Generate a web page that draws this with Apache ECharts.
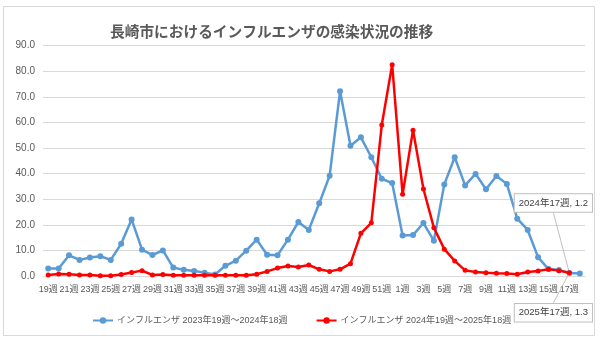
<!DOCTYPE html>
<html><head><meta charset="utf-8">
<script src="https://cdn.jsdelivr.net/npm/echarts@6/dist/echarts.min.js"></script>
<style>html,body{margin:0;padding:0;background:#fff}#c{width:600px;height:344px}</style>
</head><body><div id="c"></div>
<script>
const title = '長崎市におけるインフルエンザの感染状況の推移';
const weeks = [19,20,21,22,23,24,25,26,27,28,29,30,31,32,33,34,35,36,37,38,39,40,41,42,43,44,45,46,47,48,49,50,51,52,1,2,3,4,5,6,7,8,9,10,11,12,13,14,15,16,17,18];
const categories = weeks.map(w => w + '週');
const seriesNames = ['インフルエンザ 2023年19週〜2024年18週', 'インフルエンザ 2024年19週〜2025年18週'];
const season2023 = [2.9,2.9,8.1,6.3,7.2,7.7,6.3,12.6,22.1,10.3,8.2,10.0,3.3,2.4,2.0,1.3,0.6,4.0,6.0,9.9,14.2,8.3,8.1,14.2,21.1,18.0,28.4,39.2,72.2,50.9,54.2,46.4,38.0,36.3,15.8,16.0,20.7,13.8,35.8,46.4,35.4,39.9,33.9,39.1,36.0,22.4,18.0,7.3,2.7,2.3,1.2,1.0];
const season2024 = [0.4,0.8,0.7,0.4,0.4,0.1,0.1,0.6,1.4,2.1,0.4,0.6,0.3,0.3,0.3,0.3,0.3,0.3,0.3,0.3,0.7,1.8,3.1,3.9,3.5,4.3,2.6,1.8,2.6,4.8,16.7,20.8,59.0,82.6,31.9,57.0,34.0,18.9,10.5,5.9,2.2,1.6,1.3,1.1,1.0,0.7,1.6,2.0,2.6,2.1,1.3];
const yTicks = [0,10,20,30,40,50,60,70,80,90];
const calloutIndex = 50;
const calloutYears = ['2024年', '2025年'];

const labelStyle = {
  show: true, position: 'inside', color: '#404040', fontSize: 9.5,
  backgroundColor: '#fff', borderColor: '#bfbfbf', borderWidth: 1, padding: [4, 4],
  fontFamily: 'Liberation Sans, Noto Sans CJK JP'
};
function withCallout(arr, year) {
  return arr.map((v, i) => i === calloutIndex ? {
    value: v,
    label: Object.assign({}, labelStyle, { formatter: year + categories[i] + ', ' + v.toFixed(1).replace(/\.0$/, '') })
  } : v);
}

const chart = echarts.init(document.getElementById('c'), null, { renderer: 'canvas' });
chart.setOption({
  animation: false,
  textStyle: { fontFamily: 'Liberation Sans, Noto Sans CJK JP' },
  title: {
    text: title, left: 105, top: 19,
    textStyle: { fontSize: 14.7, fontWeight: 'bold', color: '#595959', fontFamily: 'Noto Sans CJK JP' }
  },
  graphic: [{
    type: 'rect', shape: { x: 3.5, y: 6.5, width: 591, height: 329 },
    style: { fill: 'none', stroke: '#d9d9d9', lineWidth: 1 }, silent: true, z: -1
  }],
  grid: { left: 43, right: 15, top: 45.7, bottom: 68, containLabel: false },
  legend: {
    bottom: 19, left: 92, padding: 0, itemGap: 28, itemWidth: 20, itemHeight: 8,
    textStyle: { fontSize: 9, color: '#595959', padding: [0, 0, 0, -1] },
    data: seriesNames
  },
  xAxis: {
    type: 'category', data: categories, boundaryGap: true,
    axisLine: { lineStyle: { color: '#d9d9d9' } },
    axisTick: { show: false },
    axisLabel: { interval: 1, showMinLabel: true, hideOverlap: false, color: '#595959', fontSize: 9, margin: 9 }
  },
  yAxis: {
    type: 'value', min: yTicks[0], max: yTicks[yTicks.length - 1], interval: 10,
    axisLine: { show: false }, axisTick: { show: false },
    axisLabel: { color: '#595959', fontSize: 10, formatter: v => v.toFixed(1), margin: 8 },
    splitLine: { lineStyle: { color: '#d9d9d9' } }
  },
  series: [{
    name: seriesNames[0], type: 'line', data: withCallout(season2023, calloutYears[0]),
    symbol: 'circle', symbolSize: 6,
    lineStyle: { color: '#5b9bd5', width: 2.5 },
    itemStyle: { color: '#5b9bd5' },
    label: { show: false },
    labelLayout: { dx: -16, dy: -70 },
    labelLine: { show: true, lineStyle: { color: '#bfbfbf', width: 1 } },
    z: 2
  }, {
    name: seriesNames[1], type: 'line', data: withCallout(season2024, calloutYears[1]),
    symbol: 'circle', symbolSize: 5,
    lineStyle: { color: '#ff0000', width: 2.5 },
    itemStyle: { color: '#ff0000' },
    label: { show: false },
    labelLayout: { dx: -16, dy: 40 },
    labelLine: { show: true, lineStyle: { color: '#bfbfbf', width: 1 } },
    z: 3
  }]
});
</script></body></html>
